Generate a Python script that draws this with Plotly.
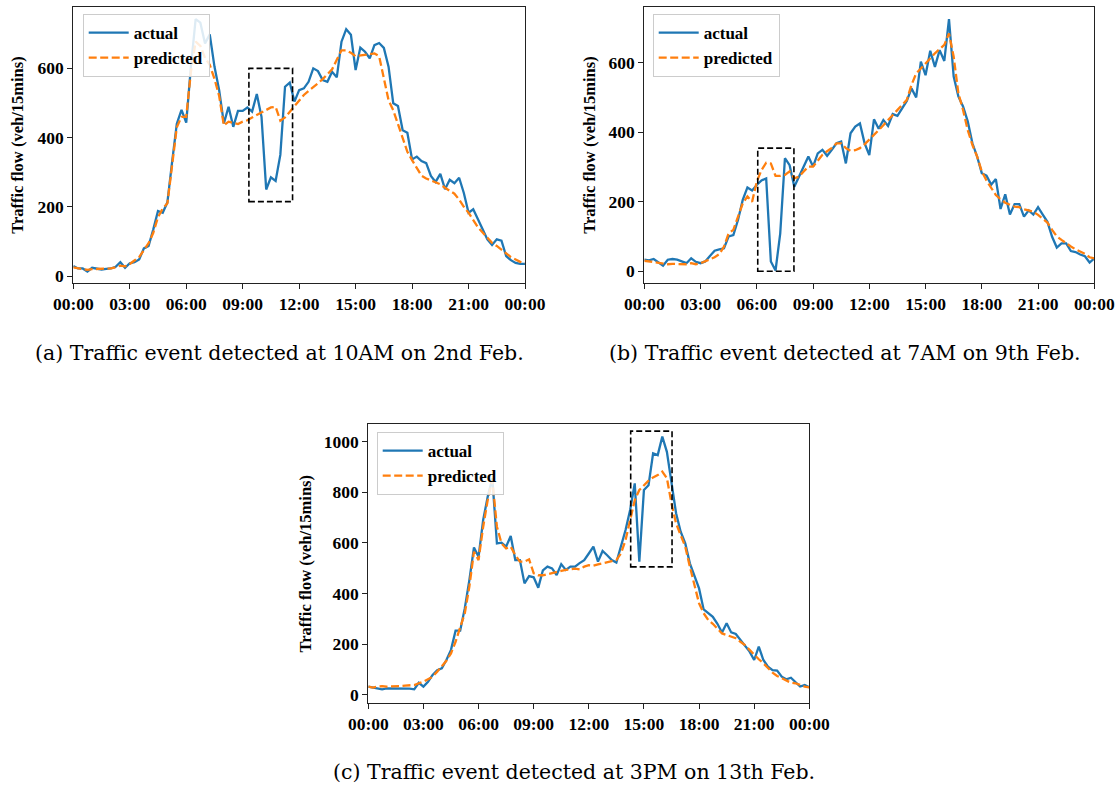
import plotly.graph_objects as go

# ---------------- data (15-minute intervals, 00:00 .. 24:00) ----------------
minutes = list(range(0, 24 * 60 + 1, 15))
hours = [m / 60 for m in minutes]

tick_vals = [0, 3, 6, 9, 12, 15, 18, 21, 24]
tick_text = ["00:00", "03:00", "06:00", "09:00", "12:00", "15:00", "18:00", "21:00", "00:00"]

a_actual = [29, 22, 22, 13, 24, 22, 19, 21, 22, 27, 40, 24, 37, 40, 48, 80, 87, 135, 188, 183, 213,
            330, 440, 480, 443, 605, 742, 732, 672, 698, 605, 537, 441, 489, 431, 477, 477, 487, 475,
            526, 460, 250, 285, 275, 350, 547, 559, 504,
            537, 542, 561, 600, 592, 566, 561, 590, 574, 677, 713, 697, 595, 660, 648, 629, 667, 673,
            659, 605, 499, 491, 421, 414, 337, 345, 332, 326, 289, 272, 295, 251, 278, 268, 284, 240,
            183, 193, 162, 135, 106, 90, 106, 102, 58, 46, 38, 35, 35]
a_pred = [25, 22, 20, 18, 20, 20, 20, 21, 22, 25, 30, 28, 35, 45, 55, 75, 95, 125, 170, 195, 210,
          320, 430, 460, 460, 590, 677, 665, 630, 610, 570, 520, 435, 446, 443, 439, 446, 450, 458,
          465, 472, 480, 487, 489, 449, 458, 475, 489,
          508, 523, 535, 545, 557, 569, 584, 597, 625, 652, 652, 645, 635, 637, 641, 643, 643, 635,
          566, 508, 479, 439, 393, 359, 335, 311, 290, 282, 277, 270, 265, 255, 246, 238, 221, 200,
          183, 162, 141, 126, 112, 96, 87, 77, 67, 55, 48, 41, 37]

b_actual = [33, 31, 35, 25, 16, 33, 35, 33, 27, 23, 37, 27, 23, 28, 44, 59, 63, 66, 100, 104, 148,
            205, 241, 232, 248, 261, 267, 28, 2, 109, 325, 305, 243, 272, 301, 330, 301, 339, 349,
            332, 349, 368, 373, 310,
            397, 416, 425, 368, 334, 437, 410, 435, 418, 452, 447, 469, 490, 526, 500, 603, 564, 634,
            588, 636, 605, 725, 560, 503, 474, 431, 368, 330, 282, 275, 249, 265, 179, 221, 163, 193,
            193, 157, 175, 163, 184, 163, 142, 99, 68, 80, 80, 58, 55, 48, 43, 25, 37]
b_pred = [30, 28, 26, 23, 20, 20, 21, 21, 20, 20, 23, 20, 23, 28, 33, 40, 49, 71, 109, 119, 157,
          195, 215, 200, 258, 291, 312, 310, 274, 274, 277, 287, 267, 272, 287, 301, 301, 318, 335,
          345, 355, 368, 368, 354,
          346, 348, 354, 365, 378, 392, 406, 420, 435, 450, 464, 478, 493, 536, 569, 583, 598, 612,
          627, 639, 651, 684, 617, 512, 464, 406, 363, 330, 287, 261, 239, 219, 207, 197, 191, 186,
          184, 178, 175, 171, 162, 152, 140, 119, 100, 90, 80, 71, 63, 57, 50, 40, 37]

c_actual = [32, 29, 25, 21, 25, 25, 25, 24, 24, 24, 21, 47, 32, 51, 78, 97, 104, 137, 177, 253,
            253, 341, 453, 582, 545, 690, 783, 855, 598, 601, 585, 627, 532, 532, 440, 469, 464,
            423, 491, 506, 499, 473, 516, 493, 506, 506, 520,
            532, 558, 585, 526, 568, 551, 532, 522, 585, 651, 730, 835, 526, 809, 828, 954, 947,
            1020, 960, 842, 717, 644, 598, 519, 466, 420, 337, 322, 308, 280, 246, 282, 246, 240,
            216, 196, 170, 137, 190, 137, 111, 97, 95, 71, 61, 67, 51, 32, 38, 29]
c_pred = [32, 28, 32, 34, 32, 32, 32, 34, 36, 36, 38, 45, 51, 61, 71, 91, 111, 134, 163, 209,
          266, 321, 427, 565, 532, 663, 770, 848, 664, 598, 578, 585, 552, 526, 526, 535, 480,
          472, 472, 477, 480, 484, 489, 493, 497, 498, 495,
          506, 512, 510, 515, 520, 525, 528, 532, 558, 611, 690, 769, 809, 828, 846, 859, 868,
          882, 856, 756, 677, 631, 585, 506, 430, 361, 322, 295, 280, 262, 242, 236, 229, 223,
          209, 196, 177, 157, 140, 124, 104, 87, 74, 65, 54, 47, 45, 38, 32, 29]

# event boxes: (start hour, end hour, low flow, high flow)
a_box = [9.33, 11.65, 215, 600]
b_box = [6.05, 7.98, 0, 354]
c_box = [14.28, 16.53, 505, 1042]

captions = ["(a) Traffic event detected at 10AM on 2nd Feb.",
            "(b) Traffic event detected at 7AM on 9th Feb.",
            "(c) Traffic event detected at 3PM on 13th Feb."]
y_title = "Traffic flow (veh/15mins)"

# ---------------- layout helpers ----------------
W, H = 1116, 787
BLUE = "#1f77b4"
ORANGE = "#ff7f0e"
SERIF = "Liberation Serif"
CAPTION_FONT = "DejaVu Serif"


def px_x(p):
    return p / W


def px_y(p):
    return 1 - p / H


panels = [
    dict(act=a_actual, pred=a_pred, box=a_box, xd=(73.3, 525), yd=(6.7, 283),
         yr=[-20, 778], yt=[0, 200, 400, 600], leg=(82.7, 14), ytx=18, cap=(279, 353)),
    dict(act=b_actual, pred=b_pred, box=b_box, xd=(644.3, 1094.3), yd=(6.7, 283),
         yr=[-34, 761], yt=[0, 200, 400, 600], leg=(652.7, 14), ytx=590, cap=(845, 353)),
    dict(act=c_actual, pred=c_pred, box=c_box, xd=(368.3, 809.3), yd=(424, 703),
         yr=[-33, 1070], yt=[0, 200, 400, 600, 800, 1000], leg=(376.7, 432), ytx=305, cap=(574, 772)),
]

fig = go.Figure()
layout = dict(width=W, height=H, margin=dict(l=0, r=0, t=0, b=0, pad=0, autoexpand=False),
              paper_bgcolor="white", plot_bgcolor="white", showlegend=True)
shapes = []
annotations = []

axis_common = dict(showline=True, mirror=True, linecolor="#222", linewidth=1.1,
                   ticks="outside", ticklen=5, tickwidth=1.1, tickcolor="#222",
                   showgrid=False, zeroline=False, automargin=False,
                   tickfont=dict(family=SERIF, size=17.5, color="black", weight="bold"))

for k, p in enumerate(panels):
    sfx = "" if k == 0 else str(k + 1)
    xa, ya = "x" + sfx, "y" + sfx
    leg = "legend" + sfx
    fig.add_trace(go.Scatter(x=hours, y=p["act"], mode="lines", name="actual",
                             line=dict(color=BLUE, width=2.3), xaxis=xa, yaxis=ya,
                             legend=leg, legendgroup=f"act{k}"))
    fig.add_trace(go.Scatter(x=hours, y=p["pred"], mode="lines", name="predicted",
                             line=dict(color=ORANGE, width=2.3, dash="8px,3.5px"),
                             xaxis=xa, yaxis=ya, legend=leg, legendgroup=f"pred{k}"))
    layout["xaxis" + sfx] = dict(axis_common, domain=[px_x(p["xd"][0]), px_x(p["xd"][1])],
                                 range=[0, 24], tickvals=tick_vals, ticktext=tick_text,
                                 anchor=ya)
    layout["yaxis" + sfx] = dict(axis_common, domain=[px_y(p["yd"][1]), px_y(p["yd"][0])],
                                 range=p["yr"], tickvals=p["yt"], anchor=xa)
    layout[leg] = dict(x=px_x(p["leg"][0]), y=px_y(p["leg"][1]), xanchor="left", yanchor="top",
                       bgcolor="rgba(255,255,255,0.85)", bordercolor="#cccccc", borderwidth=1,
                       font=dict(family=SERIF, size=17, color="black", weight="bold"),
                       tracegroupgap=0, traceorder="grouped", itemwidth=40)
    bx = p["box"]
    shapes.append(dict(type="rect", xref=xa, yref=ya, x0=bx[0], x1=bx[1], y0=bx[2], y1=bx[3],
                       line=dict(color="black", width=1.6, dash="6px,3px"),
                       fillcolor="rgba(0,0,0,0)"))
    annotations.append(dict(text=y_title, textangle=-90, xref="paper", yref="paper",
                            x=px_x(p["ytx"]), y=px_y((p["yd"][0] + p["yd"][1]) / 2),
                            showarrow=False, xanchor="center", yanchor="middle",
                            font=dict(family=SERIF, size=16.5, color="black", weight="bold")))
    annotations.append(dict(text=captions[k], xref="paper", yref="paper",
                            x=px_x(p["cap"][0]), y=px_y(p["cap"][1]),
                            showarrow=False, xanchor="center", yanchor="middle",
                            font=dict(family=CAPTION_FONT, size=20.5, color="black")))

layout["shapes"] = shapes
layout["annotations"] = annotations
fig.update_layout(**layout)
fig.write_html("out.html", config={"displayModeBar": False},
               post_script="document.body.style.margin='0px';document.body.style.overflow='hidden';")
